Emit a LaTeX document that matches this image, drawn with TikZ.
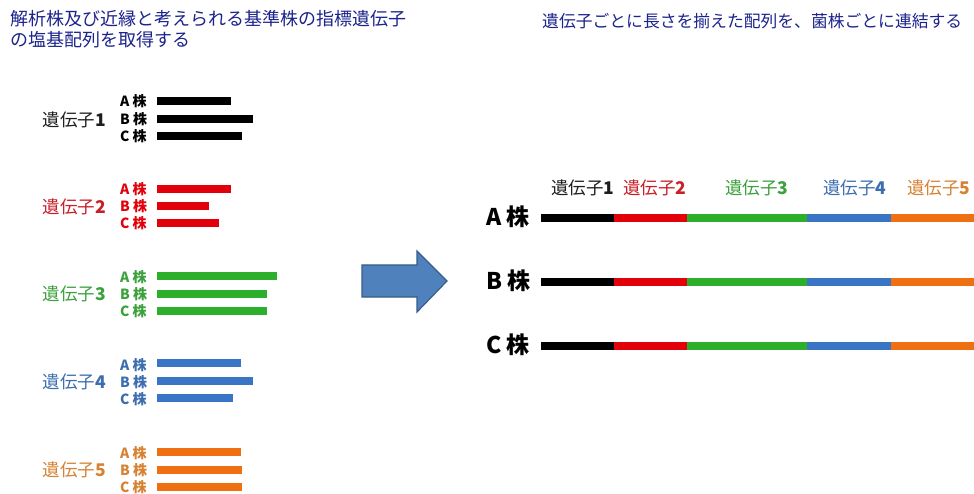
\documentclass[tikz,border=0pt]{standalone}
\usepackage{fontspec}
\newfontfamily\jp{Noto Sans CJK JP}
\definecolor{titleblue}{RGB}{28,36,140}
\definecolor{gblack}{RGB}{0,0,0}
\definecolor{gred}{RGB}{226,0,10}
\definecolor{ggreen}{RGB}{44,176,44}
\definecolor{gblue}{RGB}{58,116,196}
\definecolor{gorange}{RGB}{238,112,16}
\definecolor{tblack}{RGB}{30,30,30}
\definecolor{tred}{RGB}{200,30,40}
\definecolor{tgreen}{RGB}{60,160,60}
\definecolor{tblue}{RGB}{60,110,175}
\definecolor{torange}{RGB}{215,130,50}
\definecolor{arrowfill}{RGB}{79,129,189}
\definecolor{arrowline}{RGB}{56,93,138}
\newcommand\gn[1]{遺伝子{\bfseries #1}}
\tikzset{
  title/.style={anchor=west,inner sep=0pt,text=titleblue,font=\jp\fontsize{18}{21}\selectfont,align=left},
  genelabel/.style={anchor=east,inner sep=0pt,font=\jp\fontsize{17.5}{19}\selectfont},
  rgenelabel/.style={anchor=west,inner sep=0pt,font=\jp\fontsize{17.5}{19}\selectfont},
  strain/.style={anchor=west,inner sep=0pt,font=\jp\bfseries\fontsize{14}{15}\selectfont},
  rstrain/.style={anchor=west,inner sep=0pt,font=\jp\bfseries\fontsize{23}{25}\selectfont},
}
\begin{document}
\begin{tikzpicture}[x=1pt,y=-1pt]
\useasboundingbox[fill=white] (0,0) rectangle (974,494);
% titles
\node[title] (t1) at (10,19) {解析株及び近縁と考えられる基準株の指標遺伝子};
\node[title] (t2) at (10,40) {の塩基配列を取得する};
\node[title,font=\jp\fontsize{16.8}{20}\selectfont] (t3) at (542,21) {遺伝子ごとに長さを揃えた配列を、菌株ごとに連結する};
% left groups
% gene 1
\node[genelabel,text=tblack] (g1) at (106,120) {\gn1};
\node[strain,text=gblack] (g1a) at (120,101) {A 株};
\node[strain,text=gblack] (g1b) at (120,119) {B 株};
\node[strain,text=gblack] (g1c) at (120,136) {C 株};
\fill[gblack] (157,97) rectangle (231,105);
\fill[gblack] (157,115) rectangle (253,123);
\fill[gblack] (157,132) rectangle (242,140);
% gene 2
\node[genelabel,text=tred] (g2) at (106,207) {\gn2};
\node[strain,text=gred] (g2a) at (120,189) {A 株};
\node[strain,text=gred] (g2b) at (120,206) {B 株};
\node[strain,text=gred] (g2c) at (120,223) {C 株};
\fill[gred] (157,185) rectangle (231,193);
\fill[gred] (157,202) rectangle (209,210);
\fill[gred] (157,219) rectangle (219,227);
% gene 3
\node[genelabel,text=tgreen] (g3) at (106,294) {\gn3};
\node[strain,text=tgreen] (g3a) at (120,277) {A 株};
\node[strain,text=tgreen] (g3b) at (120,294) {B 株};
\node[strain,text=tgreen] (g3c) at (120,311) {C 株};
\fill[ggreen] (157,272) rectangle (277,280);
\fill[ggreen] (157,290) rectangle (267,298);
\fill[ggreen] (157,307) rectangle (267,315);
% gene 4
\node[genelabel,text=tblue] (g4) at (106,382) {\gn4};
\node[strain,text=tblue] (g4a) at (120,365) {A 株};
\node[strain,text=tblue] (g4b) at (120,382) {B 株};
\node[strain,text=tblue] (g4c) at (120,399) {C 株};
\fill[gblue] (157,359) rectangle (241,367);
\fill[gblue] (157,377) rectangle (253,385);
\fill[gblue] (157,394) rectangle (233,402);
% gene 5
\node[genelabel,text=torange] (g5) at (106,470) {\gn5};
\node[strain,text=torange] (g5a) at (120,453) {A 株};
\node[strain,text=torange] (g5b) at (120,470) {B 株};
\node[strain,text=torange] (g5c) at (120,487) {C 株};
\fill[gorange] (157,448) rectangle (241,456);
\fill[gorange] (157,466) rectangle (242,474);
\fill[gorange] (157,483) rectangle (242,491);
% arrow
\draw[fill=arrowfill,draw=arrowline,line width=1.2pt,line join=miter]
  (362,265) -- (417,265) -- (417,251) -- (447,281) -- (417,312) -- (417,297) -- (362,297) -- cycle;
% right side gene labels
\node[rgenelabel,text=tblack] (r1) at (551,188) {\gn1};
\node[rgenelabel,text=tred] (r2) at (623,188) {\gn2};
\node[rgenelabel,text=tgreen] (r3) at (725,188) {\gn3};
\node[rgenelabel,text=tblue] (r4) at (823,188) {\gn4};
\node[rgenelabel,text=torange] (r5) at (907,188) {\gn5};
% right strains
\foreach \lab/\yy in {A/218,B/282,C/346}{
  \node[rstrain,text=gblack] (rs\lab) at (486,\yy-1) {\lab\ 株};
  \fill[gblack] (541,\yy-4) rectangle (614,\yy+4);
  \fill[gred] (614,\yy-4) rectangle (687,\yy+4);
  \fill[ggreen] (687,\yy-4) rectangle (807,\yy+4);
  \fill[gblue] (807,\yy-4) rectangle (891,\yy+4);
  \fill[gorange] (891,\yy-4) rectangle (974,\yy+4);
}
\end{tikzpicture}
\end{document}
